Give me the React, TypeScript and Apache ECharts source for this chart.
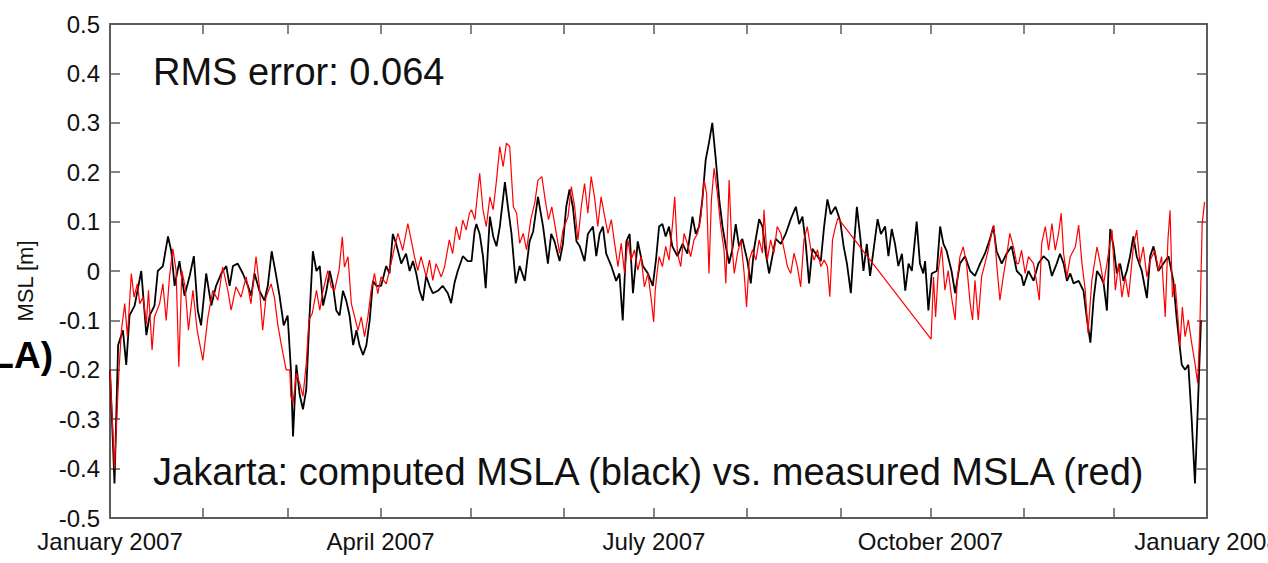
import React, { useEffect, useRef } from "react";
import * as echarts from "echarts";

// Day-of-year (0 = 1 Jan 2007) at which each month starts, and the labelled ones
const monthStartDays = [0, 31, 59, 90, 120, 151, 181, 212, 243, 273, 304, 334, 365];
const labelDays = [0, 90, 181, 273, 365];
const labelTexts = ["January 2007", "April 2007", "July 2007", "October 2007", "January 2008"];

// Computed MSLA (black): [day of year, metres]
const computedMSLA: [number, number][] = [
  [0, -0.2], [1.5, -0.43], [2.7, -0.15], [4.3, -0.12], [5.4, -0.19], [6.5, -0.09], [8.2, -0.07], [10.4, 0.0],
  [12.1, -0.13], [13.2, -0.09], [14.8, -0.07], [15.9, 0.0], [17.6, 0.01], [19.3, 0.07], [20.4, 0.04], [21.5, -0.03],
  [23.1, 0.02], [24.8, -0.05], [26.5, -0.01], [27.9, 0.03], [29.2, -0.08], [30.3, -0.11], [32, -0.005], [33.7, -0.07],
  [35.3, -0.03], [37, -0.005], [38.7, 0.01], [39.8, -0.03], [40.9, 0.01], [42.5, 0.015], [44.2, -0.005], [45.9, -0.03],
  [47, -0.05], [48.1, -0.005], [49.7, -0.04], [51.4, -0.06], [52.5, -0.03], [53.8, 0.04], [55.3, -0.01], [56.4, -0.05],
  [57.8, -0.11], [59.1, -0.09], [60.2, -0.2], [60.9, -0.335], [62.0, -0.19], [63.1, -0.25], [64.2, -0.28], [65.3, -0.24],
  [66.4, -0.09], [67.5, 0.04], [68.7, 0.0], [69.8, 0.01], [70.9, -0.07], [72.0, -0.04], [73.1, 0.0], [74.2, -0.03],
  [75.3, -0.08], [76.4, -0.09], [77.5, -0.04], [78.6, -0.06], [79.7, -0.09], [80.9, -0.15], [82.0, -0.12], [83.0, -0.15],
  [84.2, -0.17], [85.3, -0.15], [86.4, -0.1], [87.5, -0.02], [88.6, -0.03], [90.2, -0.03], [91.9, 0.01], [93.0, -0.005],
  [94.1, 0.075], [95.2, 0.055], [96.9, 0.015], [98.5, 0.035], [99.7, 0.0], [100.8, 0.02], [101.9, -0.005], [103.0, -0.04],
  [104.1, -0.06], [105.2, -0.01], [106.3, -0.03], [107.4, -0.045], [109.1, -0.04], [110.7, -0.03], [112.4, -0.045], [113.5, -0.065],
  [114.6, -0.025], [115.7, 0.0], [117.4, 0.03], [119.0, 0.02], [120.3, 0.02], [121.3, 0.08], [121.9, 0.095], [123.0, 0.075],
  [124.1, 0.03], [125.0, -0.035], [126.4, 0.11], [127.5, 0.07], [128.6, 0.05], [129.7, 0.09], [131.4, 0.18], [132.4, 0.13],
  [133.6, 0.075], [135.0, -0.025], [136.3, 0.01], [138.0, -0.02], [139.6, 0.06], [140.8, 0.08], [142.4, 0.15], [144.1, 0.09],
  [145.7, 0.015], [146.8, 0.075], [147.9, 0.06], [149.6, 0.02], [150.7, 0.055], [151.8, 0.13], [152.9, 0.165], [154.0, 0.13],
  [155.2, 0.06], [156.3, 0.05], [157.9, 0.02], [159.0, 0.075], [160.7, 0.09], [161.8, 0.03], [162.9, 0.075], [164.0, 0.09],
  [165.1, 0.035], [166.8, 0.01], [168.4, -0.02], [169.5, -0.005], [170.6, -0.1], [171.8, 0.06], [172.9, 0.075], [174.0, -0.045],
  [175.6, 0.06], [177.3, 0.01], [179.0, -0.005], [180.6, -0.03], [181.7, 0.025], [182.7, 0.09], [183.8, 0.095], [184.9, 0.07],
  [186.0, 0.09], [187.1, 0.05], [188.8, 0.03], [190.5, 0.055], [192.1, 0.035], [193.8, 0.11], [194.9, 0.075], [196.0, 0.09],
  [197.1, 0.145], [198.2, 0.225], [199.3, 0.26], [200.4, 0.3], [201.5, 0.23], [202.7, 0.145], [203.8, 0.09], [204.9, 0.05],
  [206.0, 0.015], [207.1, 0.045], [208.2, 0.095], [209.3, 0.05], [210.4, 0.065], [212.1, 0.02], [213.2, -0.025], [214.3, 0.045],
  [216.0, 0.105], [217.1, 0.09], [218.2, 0.035], [219.3, -0.005], [220.4, 0.03], [221.5, 0.065], [223.2, 0.055], [224.8, 0.075],
  [226.5, 0.105], [228.2, 0.13], [229.3, 0.095], [230.4, 0.11], [231.5, 0.055], [232.6, -0.025], [233.7, 0.045], [235.4, 0.03],
  [236.5, 0.02], [237.6, 0.09], [238.7, 0.145], [239.8, 0.115], [241.4, 0.13], [242.5, 0.11], [243.0, 0.1], [244.1, 0.05],
  [245.2, 0.015], [246.5, -0.045], [247.4, 0.04], [248.5, 0.13], [249.6, 0.07], [250.7, 0.0], [251.8, 0.055], [252.9, -0.01],
  [254.0, 0.04], [255.4, 0.105], [256.5, 0.075], [257.9, 0.09], [259.0, 0.03], [260.1, 0.085], [261.2, 0.055], [262.3, 0.01],
  [263.5, 0.035], [264.6, -0.04], [265.7, 0.015], [266.8, 0.0], [268.4, 0.1], [269.5, 0.015], [270.6, -0.005], [271.2, 0.02],
  [272.3, -0.08], [273.4, -0.005], [275.1, 0.0], [276.2, 0.09], [277.3, 0.055], [278.4, 0.04], [280.0, 0.0], [281.2, -0.045],
  [282.8, 0.015], [284.5, 0.03], [286.2, 0.0], [287.8, -0.01], [289.5, 0.015], [291.1, 0.035], [292.8, 0.065], [293.9, 0.09],
  [295.0, 0.04], [296.7, 0.015], [298.3, 0.035], [300.0, 0.05], [301.7, 0.0], [303.3, -0.01], [304.0, -0.03], [305.6, 0.0],
  [307.3, -0.02], [308.9, 0.015], [310.6, 0.03], [312.3, 0.02], [313.4, -0.01], [315.0, 0.015], [316.1, 0.035], [317.3, 0.015],
  [318.4, -0.02], [319.5, -0.005], [320.6, -0.025], [322.3, -0.02], [323.9, -0.04], [325.0, -0.095], [326.2, -0.145], [327.3, -0.055],
  [328.4, 0.0], [329.5, -0.01], [330.6, -0.025], [331.7, -0.08], [332.8, 0.085], [333.9, 0.05], [335.0, -0.005], [336.1, 0.015],
  [337.2, -0.02], [338.3, 0.0], [339.4, 0.03], [340.5, 0.07], [341.6, 0.03], [343.3, 0.0], [345.0, -0.055], [346.1, 0.03],
  [347.2, 0.05], [348.8, 0.0], [350.5, 0.015], [352.2, 0.03], [353.8, -0.02], [354.9, -0.095], [356.6, -0.19], [357.7, -0.2],
  [358.8, -0.19], [359.9, -0.3], [361.0, -0.43], [362.1, -0.25], [363.0, -0.1],
];

// Measured MSLA (red): [day of year, metres]; gap from early Sep to early Oct
const measuredMSLA: [number, number][] = [
  [0, -0.2], [1.5, -0.4], [3.0, -0.2], [3.8, -0.12], [4.9, -0.066], [5.8, -0.133], [7.1, -0.005], [8.0, -0.053],
  [9.1, -0.026], [9.9, -0.066], [11, -0.053], [12.1, -0.107], [12.8, -0.039], [14, -0.16], [14.8, -0.093], [16.5, -0.066],
  [17.6, -0.026], [18.7, -0.1], [19.8, -0.012], [20.9, 0.045], [22, 0.001], [22.9, -0.194], [23.9, 0.001], [25, -0.032],
  [26.1, -0.12], [27.6, -0.039], [29, -0.12], [30.9, -0.181], [32.6, -0.093], [34.2, -0.039], [35.9, -0.059], [37.5, 0.008],
  [39.2, -0.039], [40.3, -0.079], [41.9, -0.032], [43.6, -0.053], [45.3, -0.012], [46.9, -0.066], [48.6, 0.029], [49.7, -0.032],
  [50.8, -0.12], [51.9, -0.053], [53.6, -0.026], [54.7, -0.053], [55.8, -0.107], [56.9, -0.146], [58.6, -0.2], [59.8, -0.2],
  [60.2, -0.254], [60.9, -0.268], [62.0, -0.207], [63.1, -0.227], [64.2, -0.254], [65.3, -0.187], [66.2, -0.099], [67.3, -0.086],
  [68.7, -0.039], [69.8, -0.079], [70.9, -0.039], [72.5, 0.001], [73.6, -0.032], [74.7, -0.039], [76.2, 0.001], [77.3, 0.069],
  [78.0, 0.008], [79.2, 0.029], [80.3, -0.066], [81.4, -0.093], [82.5, -0.12], [83.6, -0.093], [84.7, -0.133], [85.8, -0.093],
  [86.9, -0.039], [88.0, -0.005], [89.1, -0.046], [90.2, -0.012], [91.9, -0.026], [93.0, 0.001], [94.7, 0.049], [95.8, 0.076],
  [97.4, 0.042], [99.1, 0.096], [100.2, 0.063], [101.3, 0.029], [102.4, 0.001], [103.5, 0.029], [105.2, -0.012], [106.3, 0.022],
  [107.4, -0.019], [108.5, 0.015], [110.2, -0.012], [111.3, 0.008], [112.9, 0.063], [114.0, 0.035], [115.2, 0.09], [116.3, 0.063],
  [117.4, 0.103], [118.5, 0.083], [119.6, 0.117], [120.3, 0.124], [121.4, 0.104], [123.0, 0.198], [124.1, 0.124], [125.2, 0.09],
  [126.4, 0.15], [127.5, 0.124], [128.6, 0.184], [129.7, 0.252], [130.8, 0.211], [131.9, 0.259], [133.0, 0.252], [134.2, 0.13],
  [135.3, 0.117], [136.3, 0.056], [137.5, 0.076], [138.6, 0.043], [140.0, 0.104], [141.3, 0.137], [142.4, 0.184], [143.7, 0.191],
  [144.8, 0.144], [145.9, 0.104], [147.0, 0.13], [148.5, 0.076], [149.6, 0.036], [150.7, 0.083], [152.4, 0.11], [153.5, 0.171],
  [154.6, 0.13], [155.7, 0.063], [156.8, 0.13], [157.9, 0.177], [159.0, 0.117], [160.1, 0.191], [161.2, 0.15], [162.3, 0.09],
  [163.4, 0.15], [164.6, 0.11], [165.7, 0.076], [166.8, 0.104], [167.9, 0.056], [169.0, 0.009], [170.1, 0.056], [171.2, -0.005],
  [172.3, 0.063], [173.4, 0.022], [174.5, 0.043], [175.6, 0.002], [176.7, 0.029], [177.8, -0.032], [179.0, -0.005], [180.1, -0.059],
  [180.9, -0.103], [181.4, -0.04], [182.0, -0.005], [182.7, 0.029], [183.8, 0.009], [184.9, 0.05], [186.0, 0.022], [187.1, 0.09],
  [187.9, 0.15], [188.8, 0.036], [189.9, 0.009], [191.0, 0.076], [192.1, 0.056], [193.2, 0.029], [194.3, 0.063], [195.5, 0.076],
  [196.6, 0.11], [197.7, 0.184], [198.5, 0.157], [199.3, -0.005], [200.1, 0.144], [201.0, 0.208], [202.1, 0.157], [203.2, 0.09],
  [204.3, 0.043], [204.9, -0.025], [206.0, 0.184], [206.8, 0.063], [207.7, -0.005], [208.8, 0.036], [209.9, 0.063], [211.0, -0.005],
  [211.8, -0.073], [212.7, 0.022], [213.8, 0.043], [214.9, 0.022], [216.0, 0.063], [217.1, 0.036], [217.6, 0.124], [218.7, 0.022],
  [219.8, 0.063], [220.9, 0.036], [222.0, 0.09], [223.2, 0.076], [224.3, 0.043], [225.4, 0.009], [226.5, -0.005], [227.6, 0.036],
  [228.7, 0.009], [229.8, -0.032], [230.9, 0.063], [232.0, 0.09], [233.2, 0.043], [234.3, 0.022], [235.4, 0.043], [236.5, 0.009],
  [237.6, 0.022], [238.7, 0.009], [239.5, -0.052], [240.4, 0.063], [241.4, 0.09], [242.2, 0.107],
  [273.2, -0.138], [274.0, -0.012], [274.7, -0.093], [275.6, 0.001], [276.7, 0.049], [277.8, -0.039], [278.9, 0.001], [280.0, -0.053],
  [281.2, -0.099], [281.9, -0.019], [282.8, 0.029], [283.9, 0.049], [285.0, 0.015], [286.2, -0.066], [287.0, -0.099], [287.8, -0.019],
  [288.9, -0.099], [290.0, -0.012], [291.1, 0.015], [292.2, 0.042], [293.3, 0.076], [294.1, 0.093], [295.0, 0.015], [296.1, -0.059],
  [297.2, -0.012], [298.3, 0.029], [299.4, 0.076], [300.6, 0.049], [301.7, 0.015], [302.3, 0.015], [303.3, 0.042], [304.5, -0.005],
  [305.6, 0.029], [307.3, 0.015], [308.4, -0.026], [309.2, -0.059], [310.0, 0.056], [311.2, 0.09], [312.3, 0.042], [313.4, 0.096],
  [314.5, 0.042], [315.6, 0.076], [316.5, 0.117], [317.3, 0.035], [318.4, -0.012], [319.5, 0.029], [321.2, 0.049], [322.3, 0.093],
  [323.4, 0.015], [324.5, -0.039], [325.4, -0.126], [326.7, -0.019], [328.4, 0.049], [329.5, 0.015], [330.6, -0.026], [331.7, 0.015],
  [333.4, 0.083], [334.5, -0.039], [335.6, 0.015], [336.7, -0.053], [337.8, -0.012], [338.9, -0.053], [340.5, 0.049], [341.6, 0.083],
  [342.7, 0.015], [343.8, 0.049], [345.0, -0.012], [346.1, 0.022], [347.7, 0.042], [348.8, 0.001], [349.9, 0.029], [351.1, -0.093],
  [352.0, 0.063], [352.7, 0.123], [353.5, -0.053], [354.4, -0.026], [355.3, -0.093], [356.0, -0.153], [356.8, -0.073], [357.7, -0.133],
  [358.8, -0.099], [359.9, -0.146], [361.0, -0.187], [361.9, -0.227], [362.6, -0.12], [363.4, 0.096], [364.2, 0.14],
];

const rmsText = "RMS error: 0.064";
const captionText = "Jakarta: computed MSLA (black) vs. measured MSLA (red)";
const yAxisTitle = "MSL [m]";
const clippedPanelLabel = "LA)";

export default function App() {
  const ref = useRef<HTMLDivElement>(null);

  useEffect(() => {
    if (!ref.current) return;
    document.body.style.margin = "0";
    document.body.style.overflow = "hidden";
    document.documentElement.style.overflow = "hidden";
    const chart = echarts.init(ref.current, null, { renderer: "svg", width: 1268, height: 563 });
    const dayCats = Array.from({ length: 366 }, (_, i) => String(i));
    const axisColor = "#5c5c5c";
    const font = "'Liberation Sans', Arial, Helvetica, sans-serif";
    const textColor = "#111";

    const catAxisBase: any = {
      type: "category",
      data: dayCats,
      boundaryGap: false,
      axisLine: { show: true, onZero: false, lineStyle: { color: axisColor, width: 2 } },
      axisTick: {
        show: true,
        inside: true,
        length: 10,
        interval: (i: number) => monthStartDays.includes(i),
        lineStyle: { color: axisColor, width: 1.5 },
      },
      splitLine: { show: false },
    };

    const valAxisBase: any = {
      type: "value",
      min: -0.5,
      max: 0.5,
      interval: 0.1,
      axisLine: { show: true, onZero: false, lineStyle: { color: axisColor, width: 2 } },
      axisTick: { show: true, inside: true, length: 10, lineStyle: { color: axisColor, width: 1.5 } },
      splitLine: { show: false },
    };

    chart.setOption({
      animation: false,
      backgroundColor: "#ffffff",
      grid: { left: 110, right: 61, top: 24, bottom: 45, containLabel: false, outerBoundsMode: "none" },
      xAxis: [
        { type: "value", min: 0, max: 365, show: false, position: "bottom" },
        {
          ...catAxisBase,
          position: "bottom",
          axisLabel: {
            show: true,
            interval: (i: number) => labelDays.includes(i),
            formatter: (v: string) => {
              const k = labelDays.indexOf(Number(v));
              return k >= 0 ? labelTexts[k] : "";
            },
            fontSize: 24,
            fontFamily: font,
            color: textColor,
            margin: 11,
            hideOverlap: false,
          },
        },
        { ...catAxisBase, position: "top", axisLabel: { show: false } },
      ],
      yAxis: [
        {
          ...valAxisBase,
          position: "left",
          axisLabel: {
            show: true,
            fontSize: 24,
            fontFamily: font,
            color: textColor,
            margin: 10,
            formatter: (v: number) => {
              const r = Math.round(v * 10) / 10;
              return r === 0 ? "0" : String(r);
            },
          },
        },
        { ...valAxisBase, position: "right", axisLabel: { show: false } },
      ],
      series: [
        {
          name: "computed MSLA",
          type: "line",
          xAxisIndex: 0,
          yAxisIndex: 0,
          data: computedMSLA,
          symbol: "none",
          lineStyle: { color: "#000000", width: 1.8 },
          z: 2,
        },
        {
          name: "measured MSLA",
          type: "line",
          xAxisIndex: 0,
          yAxisIndex: 0,
          data: measuredMSLA,
          symbol: "none",
          lineStyle: { color: "#ff0000", width: 1.2 },
          z: 3,
        },
      ],
      graphic: [
        {
          type: "text",
          x: 153,
          y: 72,
          style: { text: rmsText, fontSize: 38, fontFamily: font, fill: textColor, align: "left", verticalAlign: "middle" },
        },
        {
          type: "text",
          x: 153,
          y: 472,
          style: { text: captionText, fontSize: 38, fontFamily: font, fill: textColor, align: "left", verticalAlign: "middle" },
        },
        {
          type: "text",
          x: 25,
          y: 281,
          rotation: Math.PI / 2,
          style: { text: yAxisTitle, fontSize: 22, fontFamily: font, fill: textColor, align: "center", verticalAlign: "middle" },
        },
        {
          type: "text",
          x: 53,
          y: 355,
          style: {
            text: clippedPanelLabel,
            fontSize: 37,
            fontWeight: "bold",
            fontFamily: font,
            fill: "#000",
            align: "right",
            verticalAlign: "middle",
          },
        },
      ],
    });

    return () => chart.dispose();
  }, []);

  return (
    <div
      ref={ref}
      style={{ position: "absolute", left: 0, top: 0, width: 1268, height: 563, background: "#fff" }}
    />
  );
}
